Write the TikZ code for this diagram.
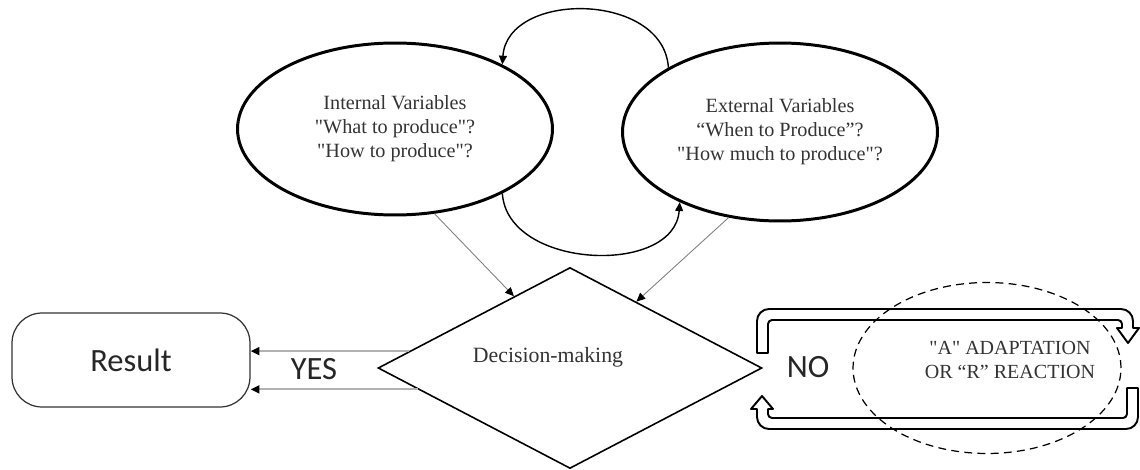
\documentclass[tikz,border=0pt]{standalone}
\usepackage{fontspec}
\setmainfont{Liberation Serif}[Ligatures=TeXOff]
\newfontfamily\calibrifont{Carlito}
\usepackage{tikz}
\usetikzlibrary{shapes.geometric, arrows.meta, positioning, calc}

\begin{document}
\begin{tikzpicture}[x=0.02cm, y=-0.02cm,
    varell/.style={ellipse, draw, line width=1.7pt, align=center, text=black!80,
        font=\fontsize{11.5}{13.7}\selectfont},
    smalltip/.style={-{Triangle[length=5pt, width=4.5pt, color=black]}},
    feed/.style={smalltip, draw=gray, line width=0.5pt},
    loopline/.style={smalltip, line width=0.8pt},
    yesline/.style={smalltip, draw=gray!60, line width=1.2pt},
    sanslbl/.style={font=\calibrifont\fontsize{18.5}{22}\selectfont, text=black!85},
    uturn/.style={line width=1.1pt, line join=round}]

    \useasboundingbox (0,0) rectangle (1140,470);

    % === The two variable ellipses ===
    \node[varell, minimum width=6.3cm, minimum height=3.44cm] (intl) at (395,129)
        {Internal Variables\\"What to produce"?\\"How to produce"?};
    \node[varell, minimum width=6.3cm, minimum height=3.56cm] (extl) at (780,132)
        {External Variables\\“When to Produce”?\\"How much to produce"?};

    % === Decision and result ===
    \node[diamond, draw, line width=0.9pt, minimum width=7.68cm, minimum height=4.02cm,
        label={[xshift=-0.44cm, yshift=0.22cm, text=black!80,
        font=\fontsize{12.4}{14}\selectfont]center:Decision-making}] (dec) at (570,368) {};
    \node[draw=black!80, line width=0.7pt, rounded corners=0.6cm, minimum width=4.76cm,
        minimum height=1.88cm, sanslbl] (res) at (131,360) {Result};

    % feedback between the ellipses
    \draw[loopline] (extl.150) .. controls +(-5,-76) and +(5,-74) .. (intl.31);
    \draw[loopline] (intl.-31) .. controls +(5,76) and +(-5,74) .. (extl.215);

    % both ellipses feed the decision
    \draw[feed] (intl.-65) -- (dec.128);
    \draw[feed] (extl.239) -- (dec.45);

    % YES branch
    \draw[yesline] (dec.174) -- (dec.174 -| res.east);
    \draw[yesline] (dec.188) -- (dec.188 -| res.east);
    \node[sanslbl] (yes) at (314,369) {YES};

    % === NO branch: the two U-turn arrows ===
    \node[sanslbl] (no) at (808,367) {NO};
    \draw[uturn] (757,353) [rounded corners=0.24cm] -- (757,309) -- (1133,309)
        [sharp corners] -- (1133,328) -- (1139,328) -- (1128,343) -- (1117,328)
        -- (1122,328) [rounded corners=0.08cm] -- (1122,320) -- (768,320)
        [sharp corners] -- (768,353) -- cycle;
    \draw[uturn] (1127,388) -- (1138,388) [rounded corners=0.24cm] -- (1138,429)
        -- (757,429) [sharp corners] -- (757,409) -- (751,409) -- (762,396)
        -- (773,409) -- (768,409) [rounded corners=0.08cm] -- (768,418) -- (1127,418)
        [sharp corners] -- cycle;

    \node[ellipse, draw, dashed, dash pattern=on 4.5pt off 3pt, line width=0.7pt,
        minimum width=5.36cm, minimum height=3.42cm] (react) at (987,368) {};
    \node[align=center, text=black!80, font=\fontsize{11.4}{13.7}\selectfont]
        (reacttxt) at (1010,360) {"A" ADAPTATION\\OR “R” REACTION};
\end{tikzpicture}
\end{document}
